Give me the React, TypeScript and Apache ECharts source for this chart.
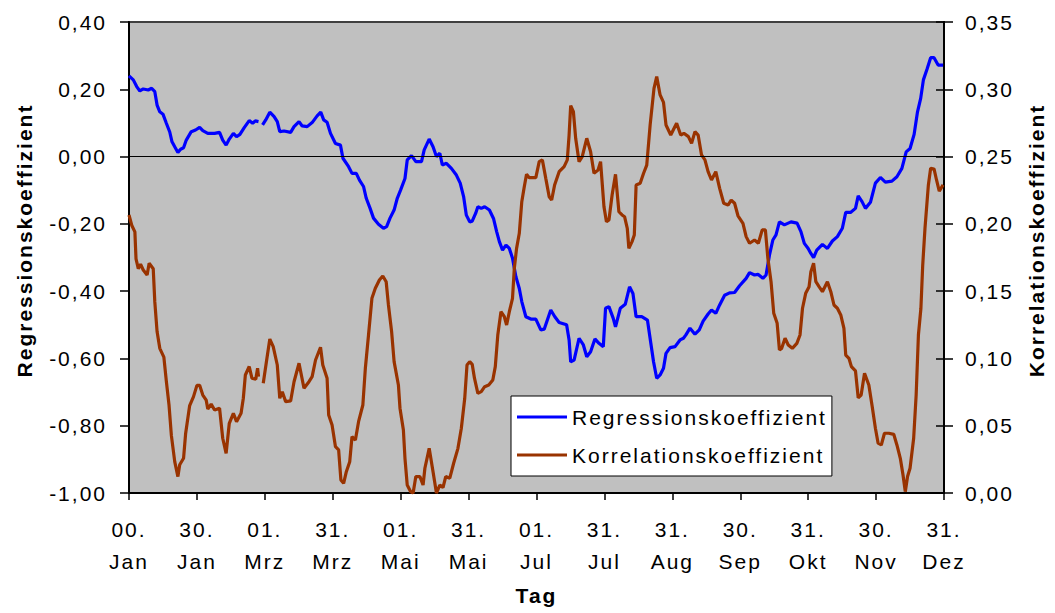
import React, { useEffect, useRef } from "react";
import * as echarts from "echarts";

const xTickLabels = ["00.\nJan", "30.\nJan", "01.\nMrz", "31.\nMrz", "01.\nMai", "31.\nMai", "01.\nJul", "31.\nJul", "31.\nAug", "30.\nSep", "31.\nOkt", "30.\nNov", "31.\nDez"];
const leftTickLabels = ["-1,00", "-0,80", "-0,60", "-0,40", "-0,20", "0,00", "0,20", "0,40"];
const rightTickLabels = ["0,00", "0,05", "0,10", "0,15", "0,20", "0,25", "0,30", "0,35"];

const regDays = [0, 1.9, 3.4, 4.8, 6.3, 8.5, 10, 11.4, 12.4, 13.6, 15, 16.5, 18, 19, 20.2, 21.6, 22.8, 24.1, 25.3, 27.5, 29.4, 31.2, 32.6, 34.8, 37.8, 40, 41.4, 42.9, 44.3, 46.1, 47.5, 49, 50.9, 53.1, 54.6, 55.8, 57.2, 58, 59, 60.4, 62.2, 64.1, 65.5, 66.6, 68.5, 71.4, 72.9, 75.1, 76.5, 78.7, 80.9, 83.1, 84.7, 86, 87.5, 89, 91.2, 93.4, 94.5, 97, 98.5, 100.4, 101.8, 103.6, 104.8, 106.5, 108, 110.2, 112.4, 113.8, 115.3, 117.1, 118.5, 120, 121.9, 122.9, 124.8, 126.7, 129.2, 130.4, 132.6, 134.3, 135.8, 137.3, 138.4, 140.2, 142.4, 144.6, 146.3, 147.8, 149, 150.5, 151.6, 153.1, 154.1, 155.6, 157.1, 159.2, 161, 162.4, 163.6, 165, 166.5, 168, 169.4, 170.9, 172.4, 173.5, 175.3, 177.5, 179.7, 181.9, 183.4, 186.3, 188.1, 190, 193.3, 194.4, 195.1, 196.6, 198.8, 200.7, 202.2, 203.9, 205.8, 207.6, 209.5, 210.5, 212, 213.9, 214.9, 217, 219.2, 221.1, 222.6, 224, 226.5, 229, 230.5, 231.7, 233.1, 234.6, 236.1, 237.2, 239, 241.2, 243.4, 244.9, 246, 247.8, 250, 251.9, 253.6, 255.8, 257.3, 259.2, 260.9, 263.1, 265.3, 267.5, 269.7, 272.6, 274.1, 276.3, 277.8, 280, 281.4, 282.9, 284.4, 285.8, 287.3, 289.5, 292.4, 295.1, 296.8, 298.3, 300, 301.2, 302.4, 303.8, 306.3, 308.5, 310.7, 312.9, 315.1, 316.6, 318.7, 320.9, 322.1, 323.8, 325.3, 327.5, 329.7, 331.9, 334.1, 337, 339.2, 341.4, 343.3, 345, 346.8, 348.3, 349.7, 350.9, 352.6, 354.1, 355.6, 357.4, 359.6];
const regValues = [0.24, 0.228, 0.208, 0.195, 0.201, 0.198, 0.203, 0.193, 0.153, 0.133, 0.126, 0.099, 0.073, 0.044, 0.029, 0.012, 0.022, 0.026, 0.049, 0.074, 0.079, 0.087, 0.077, 0.069, 0.069, 0.072, 0.049, 0.034, 0.052, 0.069, 0.059, 0.066, 0.086, 0.107, 0.099, 0.106, 0.104, null, 0.094, 0.109, 0.132, 0.119, 0.104, 0.074, 0.076, 0.072, 0.089, 0.104, 0.091, 0.089, 0.101, 0.121, 0.132, 0.109, 0.102, 0.069, 0.039, 0.034, -0.005, -0.03, -0.05, -0.05, -0.07, -0.089, -0.124, -0.154, -0.183, -0.201, -0.213, -0.208, -0.183, -0.159, -0.124, -0.099, -0.065, -0.01, 0.003, -0.015, -0.015, 0.02, 0.052, 0.029, 0, 0.01, -0.025, -0.02, -0.035, -0.055, -0.079, -0.119, -0.174, -0.194, -0.192, -0.169, -0.149, -0.154, -0.149, -0.159, -0.184, -0.223, -0.253, -0.278, -0.263, -0.273, -0.302, -0.357, -0.392, -0.431, -0.476, -0.483, -0.483, -0.515, -0.513, -0.456, -0.476, -0.493, -0.5, -0.545, -0.61, -0.605, -0.54, -0.56, -0.595, -0.58, -0.542, -0.555, -0.565, -0.451, -0.446, -0.481, -0.506, -0.451, -0.439, -0.387, -0.407, -0.476, -0.476, -0.486, -0.555, -0.61, -0.659, -0.649, -0.629, -0.585, -0.568, -0.565, -0.545, -0.54, -0.53, -0.51, -0.528, -0.515, -0.489, -0.468, -0.456, -0.466, -0.441, -0.412, -0.405, -0.404, -0.384, -0.362, -0.345, -0.352, -0.35, -0.362, -0.352, -0.293, -0.248, -0.233, -0.194, -0.203, -0.194, -0.198, -0.223, -0.258, -0.273, -0.288, -0.3, -0.278, -0.261, -0.273, -0.251, -0.238, -0.213, -0.166, -0.166, -0.154, -0.117, -0.134, -0.154, -0.136, -0.079, -0.062, -0.076, -0.073, -0.06, -0.035, 0.014, 0.024, 0.066, 0.133, 0.173, 0.228, 0.262, 0.294, 0.294, 0.272, 0.272];

const korDays = [0, 1.2, 2.6, 3.1, 4.1, 5.1, 6.3, 8, 8.9, 10.7, 11.4, 12.4, 13.6, 15.4, 16.5, 17.7, 18.7, 20.2, 21.6, 22.4, 24.1, 25, 26.8, 28.5, 30, 31.2, 32.6, 34.1, 34.8, 36.3, 37.8, 40, 41.4, 42.9, 44.3, 46.1, 47.5, 49.5, 50.5, 51.4, 53.1, 54.3, 56, 56.8, 57.2, 58, 59.3, 60.7, 62.2, 63.7, 65.5, 66.6, 67.7, 69.2, 71.4, 72.9, 75.1, 77.3, 79.5, 80.9, 82.4, 84.6, 85.6, 87.5, 88.2, 89.7, 91.2, 92.6, 93.6, 94.8, 96, 97.5, 98.5, 100, 101.4, 103.3, 104.4, 105.8, 107.3, 108.8, 110.6, 112.1, 113.6, 114.6, 116, 117.1, 119, 119.7, 121.2, 121.9, 122.9, 124.4, 125.5, 126.7, 128.5, 129.9, 130.7, 132.6, 134.3, 135.8, 137.3, 138.7, 139.9, 141.7, 143.4, 145.3, 146.8, 148.3, 149.3, 150.5, 151.6, 152.6, 154.1, 155.6, 157.1, 158.9, 160.7, 161.8, 162.9, 164.3, 165.8, 166.8, 168, 169.4, 170.2, 171.2, 172.4, 173.5, 174.6, 175.6, 176.8, 179.7, 181.2, 182.6, 184.1, 185.6, 186.7, 188, 190, 192.2, 193.6, 194.4, 195.1, 196.3, 197.3, 198.8, 200.2, 202.2, 203.9, 205.4, 207.2, 208.3, 209.8, 210.9, 212, 213.4, 214.9, 216.4, 217.8, 218.9, 220.1, 220.8, 222.2, 223.2, 224, 225.8, 227.3, 228.7, 230.2, 231.9, 233.1, 234.6, 236.1, 237.2, 239.3, 240.4, 241.9, 243.7, 245.1, 247.1, 248.5, 250, 251.4, 252.9, 254.4, 255.8, 257.3, 259.2, 260.9, 262.7, 264.6, 266, 267.5, 269, 271.2, 272.6, 274.1, 276.3, 278, 279.7, 281.1, 282.2, 283.6, 284.8, 286.3, 287.3, 288.3, 289.8, 291.2, 293, 295, 296.4, 297.5, 298.9, 300.4, 301.2, 302.4, 303.4, 304.8, 306.3, 308.5, 310, 311.4, 312.9, 314.4, 315.8, 316.6, 318, 319.1, 320.9, 322.1, 323.4, 324.9, 326.8, 328.3, 329.7, 330.9, 332.3, 333.7, 335.6, 337.8, 339.2, 340.7, 341.9, 342.9, 343.9, 345, 346.6, 347.7, 348.7, 349.8, 350.6, 351.6, 353.1, 354.1, 355.6, 356.7, 357.9, 359.6];
const korValues = [0.2066, 0.199, 0.194, 0.174, 0.1667, 0.17, 0.1657, 0.162, 0.1707, 0.1667, 0.142, 0.12, 0.1075, 0.101, 0.083, 0.065, 0.043, 0.0233, 0.0122, 0.021, 0.0258, 0.044, 0.065, 0.0716, 0.08, 0.08, 0.0728, 0.069, 0.0624, 0.066, 0.0617, 0.063, 0.0407, 0.0295, 0.0518, 0.0592, 0.053, 0.0592, 0.0704, 0.0877, 0.094, 0.0853, 0.0845, 0.0927, 0.0865, null, 0.0815, 0.0976, 0.1144, 0.1087, 0.0951, 0.0704, 0.0753, 0.0679, 0.0684, 0.0827, 0.0964, 0.0778, 0.0827, 0.0865, 0.0988, 0.1083, 0.0951, 0.0853, 0.058, 0.0505, 0.0344, 0.032, 0.0097, 0.0072, 0.0158, 0.0233, 0.0418, 0.0394, 0.053, 0.0654, 0.0927, 0.1174, 0.1447, 0.1521, 0.1583, 0.1613, 0.157, 0.1397, 0.1199, 0.0976, 0.0803, 0.063, 0.0468, 0.0258, 0.0059, 0.001, 0, 0.0122, 0.0122, 0.0059, 0.0184, 0.0332, 0.0158, 0, 0.0059, 0.004, 0.0122, 0.011, 0.0221, 0.0332, 0.0481, 0.0704, 0.0951, 0.0976, 0.0956, 0.0853, 0.0741, 0.0753, 0.079, 0.0803, 0.084, 0.0939, 0.1174, 0.1347, 0.131, 0.1248, 0.1347, 0.1447, 0.167, 0.1818, 0.193, 0.2165, 0.2276, 0.2368, 0.2343, 0.2343, 0.2462, 0.2475, 0.2338, 0.2202, 0.2177, 0.2289, 0.2388, 0.2425, 0.2475, 0.266, 0.2878, 0.2833, 0.2636, 0.2462, 0.25, 0.2636, 0.2536, 0.2376, 0.24, 0.2462, 0.2128, 0.2016, 0.2029, 0.2214, 0.2368, 0.209, 0.2066, 0.2053, 0.1967, 0.1818, 0.1868, 0.1917, 0.2289, 0.2301, 0.2376, 0.2437, 0.2735, 0.3007, 0.3094, 0.2958, 0.2903, 0.2735, 0.266, 0.2697, 0.2747, 0.266, 0.2673, 0.2648, 0.2598, 0.2685, 0.266, 0.2512, 0.2475, 0.2388, 0.2326, 0.2388, 0.2264, 0.2153, 0.214, 0.2177, 0.2153, 0.206, 0.2004, 0.1905, 0.1856, 0.188, 0.1856, 0.1955, 0.1955, 0.1744, 0.157, 0.1335, 0.1261, 0.1063, 0.1075, 0.115, 0.11, 0.1075, 0.1112, 0.1174, 0.1373, 0.1484, 0.1533, 0.1645, 0.1707, 0.157, 0.1533, 0.1496, 0.157, 0.1496, 0.1397, 0.1373, 0.1323, 0.1224, 0.1025, 0.1001, 0.0939, 0.0907, 0.0708, 0.0728, 0.0889, 0.0803, 0.0641, 0.0481, 0.037, 0.0357, 0.0444, 0.0444, 0.0436, 0.0357, 0.0258, 0.0134, 0.001, 0.0122, 0.0184, 0.0407, 0.0728, 0.1174, 0.1373, 0.1694, 0.1967, 0.2289, 0.2413, 0.2408, 0.2326, 0.2244, 0.2289];

const FONT = "'Liberation Sans', Arial, Helvetica, sans-serif";

export default function App() {
  const ref = useRef<HTMLDivElement>(null);
  useEffect(() => {
    if (!ref.current) return;
    const chart = echarts.init(ref.current, undefined, { renderer: "svg" });
    const regData = regDays.map((d, i) => [d, regValues[i] === null ? "-" : regValues[i]]);
    const korData = korDays.map((d, i) => [d, korValues[i] === null ? "-" : korValues[i]]);
    const labelStyle = { color: "#000", fontFamily: FONT, fontSize: 21 };
    chart.setOption({
      animation: false,
      backgroundColor: "#ffffff",
      grid: {
        left: 129,
        right: 106,
        top: 22,
        bottom: 120,
        show: true,
        backgroundColor: "#C0C0C0",
        borderColor: "#404040",
        borderWidth: 2,
      },
      legend: {
        orient: "vertical",
        left: 511,
        top: 396,
        padding: [9, 49, 9, 6],
        backgroundColor: "#ffffff",
        borderColor: "#000000",
        borderWidth: 1,
        itemWidth: 50,
        itemHeight: 3,
        itemGap: 14,
        icon: "rect",
        textStyle: { color: "#000", fontFamily: FONT, fontSize: 21, lineHeight: 24 },
        data: ["Regressionskoeffizient", "Korrelationskoeffizient"],
      },
      xAxis: {
        type: "value",
        min: 0,
        max: 360,
        interval: 30,
        name: "Tag",
        nameLocation: "middle",
        nameGap: 92,
        nameTextStyle: { color: "#000", fontFamily: FONT, fontSize: 21, fontWeight: "bold" },
        axisLine: { show: true, onZero: false, lineStyle: { color: "#000", width: 2 } },
        axisTick: { show: true, length: 7, lineStyle: { color: "#000", width: 1.5 } },
        splitLine: { show: false },
        axisLabel: {
          ...labelStyle,
          margin: 20,
          lineHeight: 32,
          formatter: (v: number) => xTickLabels[Math.round(v / 30)] ?? "",
        },
      },
      yAxis: [
        {
          type: "value",
          position: "left",
          min: -1,
          max: 0.4,
          interval: 0.2,
          name: "Regressionskoeffizient",
          nameLocation: "middle",
          nameRotate: 90,
          nameGap: 94,
          nameTextStyle: { color: "#000", fontFamily: FONT, fontSize: 21, fontWeight: "bold", padding: [0, 0, 0, 34] },
          axisLine: { show: true, onZero: false, lineStyle: { color: "#000", width: 2 } },
          axisTick: { show: true, length: 9, lineStyle: { color: "#000", width: 1.5 } },
          splitLine: { show: false },
          axisLabel: {
            ...labelStyle,
            margin: 22,
            formatter: (v: number) => leftTickLabels[Math.round((v + 1) / 0.2)] ?? "",
          },
        },
        {
          type: "value",
          position: "right",
          min: 0,
          max: 0.35,
          interval: 0.05,
          name: "Korrelationskoeffizient",
          nameLocation: "middle",
          nameRotate: 90,
          nameGap: 82,
          nameTextStyle: { color: "#000", fontFamily: FONT, fontSize: 21, fontWeight: "bold", padding: [0, 0, 0, 34] },
          axisLine: { show: true, onZero: false, lineStyle: { color: "#000", width: 2 } },
          axisTick: { show: true, length: 9, lineStyle: { color: "#000", width: 1.5 } },
          splitLine: { show: false },
          axisLabel: {
            ...labelStyle,
            margin: 21,
            formatter: (v: number) => rightTickLabels[Math.round(v / 0.05)] ?? "",
          },
        },
        {
          type: "value",
          position: "right",
          min: 0,
          max: 0.35,
          interval: 0.05,
          axisLine: { show: false, onZero: false },
          axisTick: { show: true, inside: true, length: 8, lineStyle: { color: "#000", width: 1.5 } },
          splitLine: { show: false },
          axisLabel: { show: false },
        },
      ],
      series: [
        {
          name: "Regressionskoeffizient",
          type: "line",
          yAxisIndex: 0,
          data: regData,
          showSymbol: false,
          symbol: "none",
          connectNulls: false,
          color: "#0000FF",
          lineStyle: { color: "#0000FF", width: 3.2 },
          markLine: {
            silent: true,
            symbol: "none",
            label: { show: false },
            lineStyle: { color: "#000", width: 1.2, type: "solid" },
            data: [{ yAxis: 0 }],
          },
        },
        {
          name: "Korrelationskoeffizient",
          type: "line",
          yAxisIndex: 1,
          data: korData,
          showSymbol: false,
          symbol: "none",
          connectNulls: false,
          color: "#993300",
          lineStyle: { color: "#993300", width: 3.2 },
        },
      ],
    });
    return () => chart.dispose();
  }, []);
  return (
    <>
      <style>{`.chart-box text { letter-spacing: 2px; }`}</style>
      <div
        ref={ref}
        className="chart-box"
        style={{ position: "fixed", left: 0, top: 0, width: 1055, height: 613 }}
      />
    </>
  );
}
